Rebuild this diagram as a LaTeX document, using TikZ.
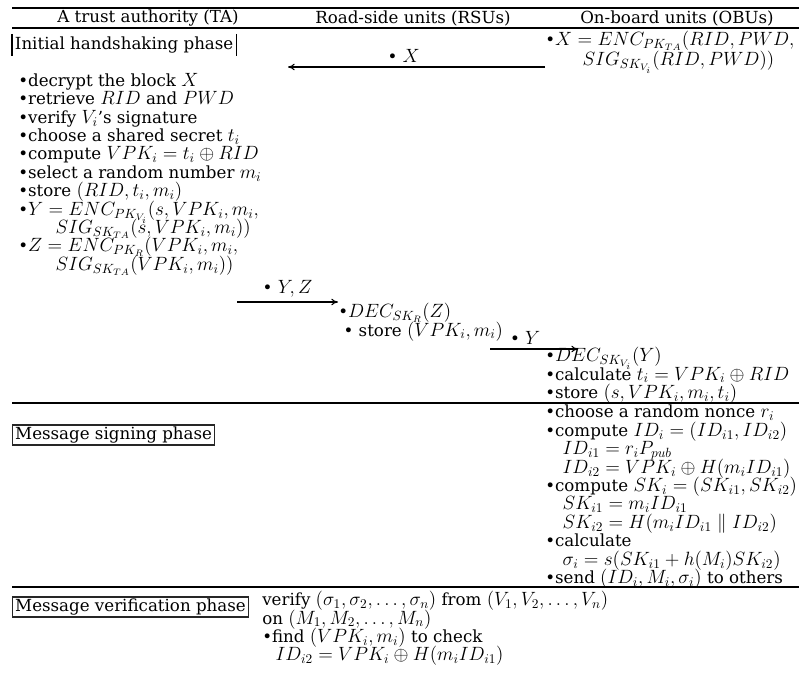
\documentclass[tikz,border=0pt]{standalone}
\usepackage{amsmath}
\usepackage{fontspec}
\setmainfont{DejaVu Serif}
\usepackage{tikz}
\usetikzlibrary{arrows.meta, positioning}

\DeclareMathSizes{12.5}{14.4}{10}{7}
\newcommand{\itm}{\textbullet}
\newcommand{\tightlines}{\setlength{\lineskiplimit}{-6pt}\setlength{\lineskip}{0pt}}

\begin{document}
\begin{tikzpicture}[
    x=0.75pt, y=-0.75pt,
    >={To[length=5pt, width=5pt]},
    font={\fontsize{12.5}{13.8}\selectfont\tightlines},
    txtblock/.style={anchor=north west, align=left, inner sep=0pt},
    headlbl/.style={inner sep=1pt},
    phasebox/.style={draw=black!85, line width=0.8pt, anchor=west, inner xsep=2pt, inner ysep=1pt, minimum height=15pt},
    rule/.style={draw=black, line width=0.9pt},
    toprule/.style={draw=black, line width=1.8pt},
    msg/.style={draw=black, line width=0.8pt, ->},
    msglbl/.style={above=2pt, inner sep=1pt}
]
    \useasboundingbox (0,0) rectangle (799,696);

    % Header
    \draw[toprule] (12,8) -- (799,8);
    \node[headlbl] (hTA) at (148,18) {A trust authority (TA)};
    \node[headlbl] (hRSU) at (413,18) {Road-side units (RSUs)};
    \node[headlbl] (hOBU) at (677,18) {On-board units (OBUs)};
    \draw[rule] (12,28) -- (799,28);

    % Initial handshaking phase
    \node[anchor=west, inner xsep=2pt, inner ysep=2pt] (phaseHand) at (12,45) {Initial handshaking phase};
    \draw[line width=0.8pt] (phaseHand.north west) -- (phaseHand.south west);
    \draw[line width=0.8pt] (phaseHand.north east) -- (phaseHand.south east);

    \node[txtblock] (obuX) at (545,31) {
        \itm$X = ENC_{PK_{TA}}(RID, PWD,$\\[1pt]
        \hspace*{28pt}$SIG_{SK_{V_i}}(RID, PWD))$
    };

    \node[txtblock] (taBlk) at (18,73) {
        \itm decrypt the block $X$\\
        \itm retrieve $RID$ and $PWD$\\
        \itm verify $V_i$'s signature\\
        \itm choose a shared secret $t_i$\\
        \itm compute $VPK_i = t_i \oplus RID$\\
        \itm select a random number $m_i$\\
        \itm store $(RID, t_i, m_i)$\\
        \itm$Y = ENC_{PK_{V_i}}(s, VPK_i, m_i,$\\
        \hspace*{28pt}$SIG_{SK_{TA}}(s, VPK_i, m_i))$\\
        \itm$Z = ENC_{PK_R}(VPK_i, m_i,$\\
        \hspace*{28pt}$SIG_{SK_{TA}}(VPK_i, m_i))$
    };

    \node[txtblock] (rsuBlk) at (338,303) {
        \itm$DEC_{SK_R}(Z)$\\
        \hspace*{4pt}\itm\ store $(VPK_i, m_i)$
    };

    \node[txtblock] (obuDec) at (545,347) {
        \itm$DEC_{SK_{V_i}}(Y)$\\
        \itm calculate $t_i = VPK_i \oplus RID$\\
        \itm store $(s, VPK_i, m_i, t_i)$
    };

    \coordinate (xHead) at (288,67);
    \coordinate (yzTail) at (237,302);
    \coordinate (yTail) at (490,349);
    \coordinate (yHead) at (578,349);

    \draw[msg] (obuX.west |- xHead) -- node[msglbl, pos=0.55] {\itm\ $X$} (xHead);
    \draw[msg] (yzTail) -- node[msglbl] {\itm\ $Y, Z$} (yzTail -| rsuBlk.west);
    \draw[msg] (yTail) -- node[msglbl, pos=0.4] {\itm\ $Y$} (yHead);

    % Message signing phase
    \draw[rule] (12,403) -- (799,403);
    \node[phasebox] (phaseSign) at (12,435) {Message signing phase};

    \node[txtblock] (obuSig) at (545,405) {
        \itm choose a random nonce $r_i$\\
        \itm compute $ID_i = (ID_{i1}, ID_{i2})$\\
        \hspace*{13pt}$ID_{i1} = r_i P_{pub}$\\
        \hspace*{13pt}$ID_{i2} = VPK_i \oplus H(m_i ID_{i1})$\\
        \itm compute $SK_i = (SK_{i1}, SK_{i2})$\\
        \hspace*{13pt}$SK_{i1} = m_i ID_{i1}$\\
        \hspace*{13pt}$SK_{i2} = H(m_i ID_{i1} \parallel ID_{i2})$\\
        \itm calculate\\
        \hspace*{13pt}$\sigma_i = s(SK_{i1} + h(M_i) SK_{i2})$\\
        \itm send $(ID_i, M_i, \sigma_i)$ to others
    };

    % Message verification phase
    \draw[rule] (12,587) -- (799,587);
    \node[phasebox] (phaseVer) at (12,607) {Message verification phase};

    \node[txtblock] (verBlk) at (262,591) {
        verify $(\sigma_1, \sigma_2, \dots, \sigma_n)$ from $(V_1, V_2, \dots, V_n)$\\
        on $(M_1, M_2, \dots, M_n)$\\
        \itm find $(VPK_i, m_i)$ to check\\
        \hspace*{10pt}$ID_{i2} = VPK_i \oplus H(m_i ID_{i1})$
    };

\end{tikzpicture}
\end{document}
